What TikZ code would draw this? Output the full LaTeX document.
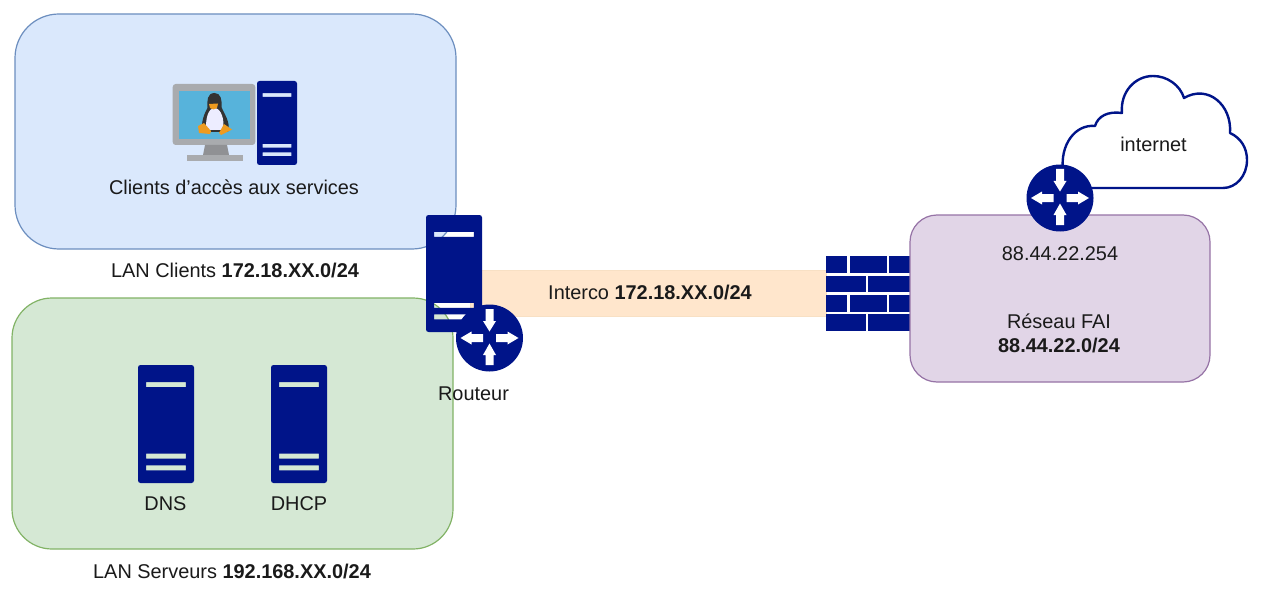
\documentclass[tikz,border=0pt]{standalone}
\usepackage{fontspec}
\setmainfont{Liberation Sans}
\definecolor{navy}{HTML}{001489}
\definecolor{ink}{HTML}{1A1A1A}
\definecolor{bluefill}{HTML}{DAE8FC}
\definecolor{blueline}{HTML}{6C8EBF}
\definecolor{greenfill}{HTML}{D5E8D4}
\definecolor{greenline}{HTML}{82B366}
\definecolor{purplefill}{HTML}{E1D5E7}
\definecolor{purpleline}{HTML}{9673A6}
\definecolor{peach}{HTML}{FFE6CC}
\definecolor{peachline}{HTML}{F8E0C4}
\definecolor{screenblue}{HTML}{57B3DB}
\definecolor{bezel}{HTML}{A9ABAE}
\definecolor{tuxorange}{HTML}{EE9B1F}
\newcommand{\serverbody}[4]{% x, y, w, h
  \fill[navy,even odd rule] [rounded corners=2.5pt] (#1,#2) rectangle ++(#3,#4)
    [sharp corners]
    (#1+0.143*#3,#2+0.145*#4) rectangle (#1+0.857*#3,#2+0.188*#4)
    (#1+0.143*#3,#2+0.75*#4) rectangle (#1+0.857*#3,#2+0.793*#4)
    (#1+0.143*#3,#2+0.85*#4) rectangle (#1+0.857*#3,#2+0.893*#4);
}
\newcommand{\routerbody}[2]{% cx, cy
  \begin{scope}[shift={(#1,#2)}]
    \fill[navy] (0,0) circle (33.5);
    \fill[white] (-4,-29) -- (4,-29) -- (4,-17) -- (6.5,-17) -- (0,-6.5) -- (-6.5,-17) -- (-4,-17) -- cycle;
    \fill[white] (-4,27) -- (4,27) -- (4,17) -- (6.5,17) -- (0,5.5) -- (-6.5,17) -- (-4,17) -- cycle;
    \fill[white] (6.5,-4) -- (18,-4) -- (18,-6.5) -- (29,0) -- (18,6.5) -- (18,4) -- (6.5,4) -- cycle;
    \fill[white] (-6.5,-4) -- (-18,-4) -- (-18,-6.5) -- (-29,0) -- (-18,6.5) -- (-18,4) -- (-6.5,4) -- cycle;
  \end{scope}
}
\tikzset{
  lbl/.style={font=\fontsize{19.9}{23.5}\selectfont,text=ink,inner sep=0pt,align=center},
  zone/.style={line width=1.2pt},
  brick/.style={fill=navy,draw=none}
}
\begin{document}
\begin{tikzpicture}[x=1pt,y=-1pt]
\useasboundingbox (0,0) rectangle (1273,596);
\fill[white] (0,0) rectangle (1273,596);
% zones
\draw[zone,fill=bluefill,draw=blueline,rounded corners=44pt] (15,14) rectangle (456,249);
\draw[zone,fill=greenfill,draw=greenline,rounded corners=40pt] (12,298) rectangle (453,549);
\draw[line width=1pt,fill=peach,draw=peachline] (470,270) rectangle (826,316);
% firewall
\foreach \xa/\xb/\ya/\yb in {826/847.3/256/273.3, 850/886.7/256/273.3, 889.3/912/256/273.3,
    826/865.7/275.7/292.3, 868.3/912/275.7/292.3,
    826/847.3/294.7/311.7, 850/886.7/294.7/311.7, 889.3/912/294.7/311.7,
    826/865.7/313.7/330.5, 868.3/912/313.7/330.5}
  \fill[brick] (\xa,\ya) rectangle (\xb,\yb);
\draw[zone,fill=purplefill,draw=purpleline,rounded corners=27pt] (910,215) rectangle (1210,382);
% cloud
\draw[navy,line width=2.4pt,fill=white,line join=round]
  (1063,170) .. controls (1060,145) and (1075,124) .. (1095,126)
  .. controls (1098,116) and (1108,111) .. (1122,113)
  .. controls (1120,92) and (1135,76) .. (1153,76)
  .. controls (1167,76) and (1180,85) .. (1184,98)
  .. controls (1208,84) and (1232,105) .. (1230,133)
  .. controls (1241,138) and (1247,148) .. (1247,160)
  .. controls (1247,176) and (1236,188) .. (1223,188)
  -- (1085,188);
% clients
\begin{scope}
  \fill[bezel,rounded corners=3pt] (172.7,84) rectangle (255.3,145);
  \fill[screenblue] (179.3,90.7) rectangle (250,139.3);
  \fill[bezel!85!black] (205,145) -- (227,145) -- (229,155) -- (203,155) -- cycle;
  \fill[bezel] (186.7,155) rectangle (243.3,160.7);
  % penguin
  \fill[black!80] (214.5,93) .. controls (207,93) and (207,101) .. (207.5,108)
     .. controls (204,114) and (201,122) .. (202,132) -- (228,132)
     .. controls (231,122) and (224,114) .. (221.5,107) .. controls (222,100) and (221,93) .. (214.5,93) -- cycle;
  \fill[white!93!blue] (214.5,108) .. controls (208,108) and (205,120) .. (206.5,130) -- (223,130)
     .. controls (225,120) and (221,108) .. (214.5,108) -- cycle;
  \fill[tuxorange] (209,104) -- (218,103.5) -- (217,108) -- (213.5,109.5) -- (210,108) -- cycle;
  \fill[tuxorange] (198,126) -- (204,123) -- (211,131) -- (210,134) -- (199,133) -- cycle;
  \fill[tuxorange] (219,133) -- (224,124) -- (232,129.5) -- (221,135) -- cycle;
\end{scope}
\serverbody{257}{81}{40}{84}
\node[lbl] (clients) at (234,187) {Clients d'accès aux services};
\node[lbl] (lanclients) at (235,270) {LAN Clients \textbf{172.18.XX.0/24}};
% servers
\serverbody{138}{365}{56}{118}
\serverbody{271}{365}{56}{118}
\node[lbl] (dns) at (165.5,503.5) {DNS};
\node[lbl] (dhcp) at (299,503.5) {DHCP};
\node[lbl] (lanserveurs) at (232,571) {LAN Serveurs \textbf{192.168.XX.0/24}};
% router
\serverbody{426}{215}{56}{117}
\routerbody{489.5}{338}
\node[lbl] (routeur) at (473.5,394) {Routeur};
\node[lbl] (interco) at (650,292) {Interco \textbf{172.18.XX.0/24}};
% FAI
\routerbody{1060}{198}
\node[lbl] (gw) at (1060,254) {88.44.22.254};
\node[lbl] (fai) at (1059,333.5) {Réseau FAI\\\textbf{88.44.22.0/24}};
\node[lbl] (internet) at (1153.5,144) {internet};
\end{tikzpicture}
\end{document}
